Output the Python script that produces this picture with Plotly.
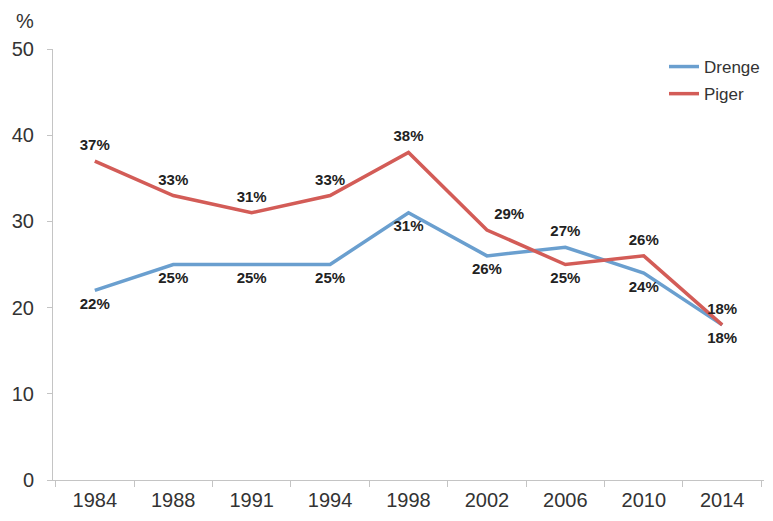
import plotly.graph_objects as go

years = ["1984", "1988", "1991", "1994", "1998", "2002", "2006", "2010", "2014"]
drenge = [22, 25, 25, 25, 31, 26, 27, 24, 18]
piger = [37, 33, 31, 33, 38, 29, 25, 26, 18]
drenge_pos = ["bottom center"] * 6 + ["top center", "bottom center", "bottom center"]
piger_pos = ["top center"] * 5 + ["top right", "bottom center", "top center", "top center"]

label_font = dict(family="Liberation Sans", size=15, color="#222", weight="bold")
hidden_marker = dict(size=10, color="rgba(0,0,0,0)")

fig = go.Figure()
fig.add_trace(go.Scatter(
    x=years, y=drenge, name="Drenge", mode="lines+markers+text",
    line=dict(color="#6a9fcf", width=3.5), marker=hidden_marker,
    text=[f"{v}%" for v in drenge], textposition=drenge_pos,
    textfont=label_font, legendgroup="d",
))
fig.add_trace(go.Scatter(
    x=years, y=piger, name="Piger", mode="lines+markers+text",
    line=dict(color="#d35c57", width=3.5), marker=hidden_marker,
    text=[f"{v}%" for v in piger], textposition=piger_pos,
    textfont=label_font, legendgroup="p",
))

# the page body has an 8px margin: keep the figure inside the 773x521 window
fig.update_layout(
    width=757, height=505,
    margin=dict(l=45, r=0, t=41, b=33),
    paper_bgcolor="white", plot_bgcolor="white",
    font=dict(family="Liberation Sans", size=20, color="#333"),
    showlegend=True,
    legend=dict(x=0.8596, y=1.0, xanchor="left", yanchor="top",
                font=dict(size=17, color="#333"), bgcolor="rgba(0,0,0,0)",
                itemwidth=30, traceorder="grouped", tracegroupgap=2),
    xaxis=dict(type="category", showline=True, linecolor="#c4c4c4", linewidth=1,
               ticks="outside", tickson="boundaries", ticklen=6, tickcolor="#c4c4c4",
               showgrid=False, tickfont=dict(size=20), automargin=False,
               ticklabelstandoff=2),
    yaxis=dict(range=[0, 50], dtick=10, showline=True, linecolor="#c4c4c4", linewidth=1,
               ticks="outside", ticklen=5, tickcolor="#c4c4c4", showgrid=False,
               zeroline=False, tickfont=dict(size=20), automargin=False,
               ticklabelstandoff=9),
)
fig.add_annotation(text="%", xref="paper", yref="paper", x=-0.0393, y=1.0951,
                   xanchor="center", yanchor="top", showarrow=False,
                   font=dict(size=20, color="#333"))
fig.write_html("out.html")
